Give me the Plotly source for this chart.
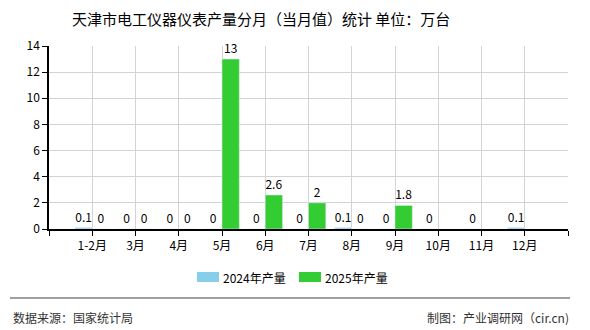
import plotly.graph_objects as go

categories = ["1-2月", "3月", "4月", "5月", "6月", "7月", "8月", "9月", "10月", "11月", "12月"]
values_2024 = [0.1, 0, 0, 0, 0, 0, 0.1, 0, 0, 0, 0.1]
values_2025 = [0, 0, 0, 13, 2.6, 2, 0, 1.8, None, None, None]
series_names = ["2024年产量", "2025年产量"]
series_colors = ["#87CEEB", "#33CC33"]
y_ticks = [0, 2, 4, 6, 8, 10, 12, 14]

FONT = "Noto Sans CJK SC, Noto Sans, sans-serif"
L, R, T, B = 49, 22, 46, 101
W, H = 590, 330
pw, ph = W - L - R, H - T - B

def px_x(px):
    return (px - L) / pw

def px_y(py):
    return (H - B - py) / ph

xs = list(range(len(categories)))

fig = go.Figure()
for vals, name, color, off in [(values_2024, series_names[0], series_colors[0], -0.4),
                               (values_2025, series_names[1], series_colors[1], 0)]:
    fig.add_trace(go.Bar(
        x=xs, y=vals, name=name, marker_color=color,
        width=0.4, offset=off, texttemplate="%{y}", textposition="outside",
        textfont=dict(size=12, color="#000", family=FONT), cliponaxis=False,
        showlegend=False,
    ))

tickvals = [-1] + xs + [len(categories)]
ticktext = [""] + categories + [""]

fig.update_layout(
    width=W, height=H, barmode="overlay",
    margin=dict(l=L, r=R, t=T, b=B),
    paper_bgcolor="white", plot_bgcolor="white",
    font=dict(family=FONT, size=12, color="#000"),
    xaxis=dict(range=[-1, len(categories)], tickvals=tickvals, ticktext=ticktext,
               showgrid=True, gridcolor="#D3D3D3", gridwidth=1,
               showline=True, linecolor="#000", linewidth=1.5,
               ticks="outside", ticklen=5, tickcolor="#000", zeroline=False,
               tickfont=dict(size=12, color="#000")),
    yaxis=dict(range=[0, 14], tickvals=y_ticks, showgrid=True, gridcolor="#D3D3D3", gridwidth=1,
               showline=True, linecolor="#000", linewidth=1.5, ticks="outside", ticklen=5,
               tickcolor="#000", zeroline=False, tickfont=dict(size=12, color="#000")),
)

# custom legend (wide swatches)
legend_x = [197, 299]
for lx, name, color in zip(legend_x, series_names, series_colors):
    fig.add_shape(type="rect", xref="paper", yref="paper",
                  x0=px_x(lx), x1=px_x(lx + 22), y0=px_y(282), y1=px_y(272),
                  line=dict(width=0), fillcolor=color)
    fig.add_annotation(text=name, xref="paper", yref="paper",
                       x=px_x(lx + 24), y=px_y(277), xanchor="left", yanchor="middle",
                       showarrow=False, font=dict(size=12, color="#000", family=FONT))

fig.add_shape(type="line", xref="paper", yref="paper",
              x0=px_x(10), x1=px_x(570), y0=px_y(298), y1=px_y(298),
              line=dict(color="#808080", width=1.5))

fig.add_annotation(text="天津市电工仪器仪表产量分月（当月值）统计 单位：万台", xref="paper", yref="paper",
                   x=px_x(261), y=px_y(18), xanchor="center", yanchor="middle", showarrow=False,
                   font=dict(size=15, color="#000", family=FONT))
fig.add_annotation(text="数据来源：国家统计局", xref="paper", yref="paper",
                   x=px_x(11), y=px_y(317), xanchor="left", yanchor="middle", showarrow=False,
                   font=dict(size=12, color="#333", family=FONT))
fig.add_annotation(text="制图：产业调研网（cir.cn)", xref="paper", yref="paper",
                   x=px_x(571), y=px_y(317), xanchor="right", yanchor="middle", showarrow=False,
                   font=dict(size=12, color="#333", family=FONT))

fig.write_html("out.html")
